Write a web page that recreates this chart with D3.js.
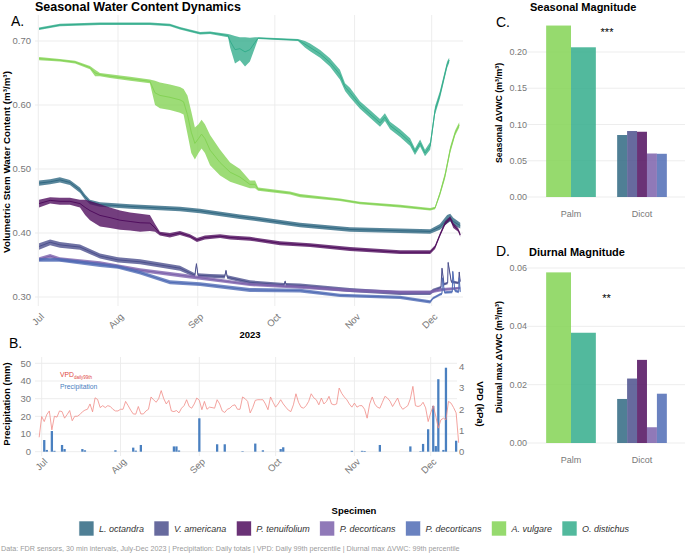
<!DOCTYPE html>
<html>
<head>
<meta charset="utf-8">
<script src="https://cdn.jsdelivr.net/npm/d3@7"></script>
<style>
  body { margin: 0; background: #fff; }
  svg text { font-family: "Liberation Sans", Arial, sans-serif; }
</style>
</head>
<body>
<svg id="chart" width="685" height="555"></svg>
<script>
// Seasonal stem water content, rain / VPD and per-specimen magnitudes.

const specimens      = ['L. octandra', 'V. americana', 'P. tenuifolium', 'P. decorticans', 'P. decorticans', 'A. vulgare', 'O. distichus'];
const specimenColors = ['#306882', '#4c508d', '#500e5e', '#7d62ac', '#506cb5', '#84d355', '#34ad8c'];
const specimenGroup  = ['Dicot', 'Dicot', 'Dicot', 'Dicot', 'Dicot', 'Palm', 'Palm'];
const groups         = ['Palm', 'Dicot'];
const seasonalDelta  = [0.0855, 0.091, 0.090, 0.060, 0.0596, 0.2365, 0.2065];
const diurnalDelta   = [0.0151, 0.0221, 0.0285, 0.0054, 0.0169, 0.0585, 0.0378];

// VWC traces: [days since 1 Jul 2023, daily low, daily high]
const wcLoct = [[0.3,.474,.482],[4.6,.476,.484],[8.4,.479,.487],[12.3,.475,.483],[16.2,.463,.471],[18.2,.452,.460],[20.1,.445,.452],[24,.441,.448],[35.7,.438,.445],[55.1,.434,.441],[62.9,.431,.438],[78.4,.422,.429],[82.3,.420,.427],[101.8,.409,.416],[121.2,.402,.409],[140.7,.400,.407],[152.4,.399,.406],[156.2,.405,.414],[159,.415,.428],[160.2,.418,.430],[161.4,.412,.424],[164.1,.407,.416]];
const wcVame = [[0.3,.374,.384],[4.6,.381,.390],[8.4,.377,.386],[16.2,.374,.382],[24,.360,.368],[31,.354,.362],[39.6,.351,.359],[55.1,.341,.349],[60.9,.331,.337],[61.5,.350,.354],[62.1,.331,.337],[66.8,.330,.336],[72.5,.329,.335],[73,.340,.343],[73.5,.328,.334],[82.3,.320,.326],[95.6,.316,.322],[96,.323,.326],[96.4,.316,.322],[101.8,.315,.321],[121.2,.308,.314],[140.7,.303,.309],[152.4,.303,.309],[153.5,.307,.313],[156.6,.313,.317],[157,.343,.347],[157.8,.318,.322],[159.2,.320,.324],[159.4,.352,.356],[160.6,.322,.326],[163.5,.320,.324],[163.7,.337,.341],[164.1,.322,.326]];
const wcPten = [[0.3,.440,.452],[4.6,.446,.456],[8.4,.444,.455],[12.3,.444,.455],[16.2,.440,.452],[18.2,.428,.452],[20.1,.420,.450],[24,.410,.445],[27.9,.408,.440],[31.8,.405,.435],[35.7,.404,.432],[39.6,.402,.430],[43.4,.403,.428],[45.4,.402,.414],[47.3,.396,.402],[51.2,.393,.400],[55.1,.397,.403],[59,.392,.398],[61.7,.386,.392],[64.8,.390,.396],[70.7,.392,.398],[74.6,.390,.396],[82.3,.388,.394],[94,.381,.387],[105.7,.378,.384],[121.2,.372,.378],[140.7,.367,.373],[152.4,.367,.373],[154.3,.375,.381],[156.2,.394,.400],[158.2,.412,.418],[160.2,.420,.426],[161.4,.408,.416],[163.3,.402,.408],[164.1,.394,.400]];
const wcPdec1 = [[0.3,.356,.362],[4.6,.361,.367],[8.4,.356,.362],[24,.350,.356],[39.6,.339,.345],[55.1,.331,.337],[62.9,.327,.333],[82.3,.317,.322],[101.8,.313,.318],[121.2,.308,.313],[140.7,.305,.310],[152.4,.305,.310],[154.3,.307,.312],[157,.309,.314],[164.1,.312,.316]];
const wcPdec2 = [[0.3,.355,.361],[8.4,.355,.361],[24,.347,.353],[31,.344,.350],[39.6,.335,.341],[51.2,.320,.326],[62.9,.317,.323],[82.3,.308,.314],[101.8,.307,.313],[117.3,.300,.305],[140.7,.297,.302],[152.4,.290,.295],[153.5,.296,.300],[156.2,.302,.306],[157,.303,.307],[157.2,.328,.332],[158,.305,.309],[161,.306,.310],[161.2,.338,.342],[162,.308,.312],[163.5,.306,.310],[163.7,.328,.332],[164.1,.306,.310]];
const wcAvul = [[0.3,.670,.675],[8.4,.668,.672],[14.3,.665,.669],[20.1,.656,.661],[22.1,.645,.655],[24,.645,.650],[27.9,.642,.648],[35.7,.638,.644],[43.4,.634,.640],[45.4,.600,.638],[47.3,.595,.635],[51.2,.592,.632],[55.1,.588,.628],[56.5,.585,.625],[58,.555,.615],[59.5,.525,.590],[60.9,.515,.565],[62.3,.525,.570],[63.5,.532,.577],[64.8,.525,.570],[66.8,.506,.553],[70.7,.490,.530],[74.6,.480,.510],[78.4,.475,.500],[82.3,.470,.482],[84.3,.470,.482],[85.5,.466,.471],[97.9,.460,.465],[101.8,.456,.461],[117.3,.450,.454],[125.1,.445,.449],[140.7,.440,.444],[152.4,.435,.439],[154.3,.437,.441],[156.2,.458,.465],[158.2,.485,.495],[160.2,.525,.535],[162.1,.552,.560],[163.7,.565,.573]];
const wcOdis = [[0.3,.717,.721],[8.4,.723,.727],[24,.725,.729],[43.4,.725,.729],[51.2,.723,.727],[55.1,.718,.722],[62.9,.710,.714],[66.8,.711,.715],[73.8,.706,.711],[74.6,.690,.710],[76.5,.665,.708],[78.4,.670,.706],[80.4,.660,.706],[82.3,.668,.705],[84.3,.690,.706],[85.5,.703,.706],[101,.700,.703],[103.7,.690,.700],[105.7,.684,.696],[109.6,.674,.686],[113.4,.660,.673],[117.3,.640,.655],[119.3,.622,.634],[121.2,.612,.627],[125.1,.594,.606],[129,.580,.592],[132.9,.566,.578],[134.8,.575,.587],[136.8,.562,.574],[140.7,.550,.562],[144.6,.536,.548],[146.5,.522,.532],[148.5,.535,.546],[150.4,.520,.530],[152.4,.530,.542],[154.3,.585,.598],[156.2,.610,.622],[159,.658,.668],[159.8,.666,.674]];
const wcSeries = [wcLoct, wcVame, wcPten, wcPdec1, wcPdec2, wcAvul, wcOdis];

// daily precipitation [day, mm]
const precip = [[1,6.6],[2,1.0],[4,11.7],[5,0.5],[8,3.8],[9,1.5],[16,1.5],[17,0.8],[29,0.8],[36,2.3],[37,0.6],[39,3.8],[52,3.0],[53,3.0],[54,0.7],[62,18.9],[69,4.2],[72,4.2],[79,0.3],[84,4.6],[87,0.8],[94,1.5],[95,2.5],[122,0.5],[126,0.5],[127,0.4],[133,3.8],[145,3.0],[149,0.3],[150,4.4],[152,12.7],[154,25.9],[155,3.2],[156,41.0],[158,1.0],[159,47.5],[163,6.2]];

// daily 99th percentile VPD (kPa), from day -1 onward
const vpdStart = -1;
const vpd = [0.68,1.66,1.42,1.75,1.92,1.03,1.67,1.63,1.92,1.89,1.58,1.75,1.94,1.46,1.67,1.67,1.75,1.88,1.96,2.00,2.25,1.88,2.54,2.46,2.08,2.17,2.08,2.17,2.13,2.00,1.92,1.92,2.00,2.00,2.37,2.17,1.96,1.78,1.77,2.13,1.78,1.78,1.92,2.00,2.58,2.45,2.33,2.50,2.88,2.50,2.25,2.42,1.92,1.89,1.94,1.83,2.05,2.17,2.45,2.13,2.05,2.25,2.53,2.42,1.98,2.37,2.00,2.10,2.08,2.05,2.45,2.25,1.92,1.85,2.00,2.05,2.17,2.21,2.00,2.00,2.58,2.50,2.37,1.83,2.08,2.42,2.45,2.45,2.45,2.25,1.98,2.58,2.33,2.10,2.25,2.45,2.25,2.10,1.96,1.89,2.21,2.73,2.33,2.10,2.05,2.17,2.37,2.73,2.54,2.45,2.21,2.53,2.25,2.37,2.61,2.25,2.21,2.25,3.00,2.75,2.58,2.45,2.25,2.10,2.29,2.10,2.17,2.17,2.00,1.58,2.25,2.58,2.25,2.10,2.05,2.33,2.61,2.53,2.38,2.13,2.33,2.53,2.17,2.00,2.08,2.17,2.50,3.08,2.17,2.13,2.17,2.33,2.07,1.42,1.83,2.17,1.67,1.11,1.50,1.58,1.50,2.37,2.29,2.08,1.83,0.42];

const MM_PER_KPA = 12;
const captionText = 'Data: FDR sensors, 30 min intervals, July-Dec 2023 | Precipitation: Daily totals | VPD: Daily 99th percentile | Diurnal max \u0394VWC: 99th percentile';

const svg = d3.select('#chart');
const GRID = '#ebebeb';
const TICK = '#787878';
const jul1 = new Date(2023, 6, 1);
const dec1 = new Date(2023, 11, 1);
const toDate = d => new Date(jul1.getTime() + d * 864e5);
const months = d3.timeMonth.range(jul1, new Date(2023, 11, 2));
const fmtMonth = d3.timeFormat('%b');

function label(g, x, y, txt, opts = {}) {
  return g.append('text').attr('x', x).attr('y', y).text(txt)
    .attr('font-size', opts.size || 9.5)
    .attr('font-weight', opts.weight || 'normal')
    .attr('fill', opts.fill || '#000')
    .attr('text-anchor', opts.anchor || 'start');
}
function rotLabel(g, x, y, txt, angle, size) {
  g.append('text').attr('transform', `translate(${x},${y}) rotate(${angle})`)
    .attr('text-anchor', 'middle').attr('font-size', size).attr('font-weight', 'bold')
    .attr('fill', '#000').text(txt);
}

// ---------- A. water content ----------
const xA = d3.scaleTime().domain([jul1, dec1]).range([38.3, 431.7]);
const yA = d3.scaleLinear().domain([0.3, 0.7]).range([297, 41]);
const gA = svg.append('g');

gA.selectAll('line.hg').data(yA.ticks(4)).enter().append('line')
  .attr('x1', 35).attr('x2', 463).attr('y1', d => yA(d)).attr('y2', d => yA(d))
  .attr('stroke', GRID).attr('stroke-width', 0.9);
gA.selectAll('line.vg').data(months).enter().append('line')
  .attr('x1', d => xA(d)).attr('x2', d => xA(d)).attr('y1', 15).attr('y2', 306)
  .attr('stroke', GRID).attr('stroke-width', 0.9);

gA.selectAll('text.yt').data(yA.ticks(4)).enter().append('text')
  .attr('x', 31).attr('y', d => yA(d)).attr('dy', '0.35em').attr('text-anchor', 'end')
  .attr('font-size', 9.5).attr('fill', TICK).text(d3.format('.2f'));
gA.selectAll('text.xt').data(months).enter().append('text')
  .attr('transform', d => `translate(${xA(d) + 4},${315}) rotate(-45)`)
  .attr('text-anchor', 'end').attr('dy', '0.35em')
  .attr('font-size', 9.5).attr('fill', TICK).text(fmtMonth);

const areaA = d3.area().x(d => xA(toDate(d[0]))).y0(d => yA(d[1])).y1(d => yA(d[2]));
const lineA = d3.line().x(d => xA(toDate(d[0]))).y(d => yA((d[1] + d[2]) / 2));
wcSeries.forEach((s, i) => {
  gA.append('path').attr('d', areaA(s)).attr('fill', specimenColors[i]).attr('fill-opacity', 0.8);
  gA.append('path').attr('d', lineA(s)).attr('fill', 'none')
    .attr('stroke', specimenColors[i]).attr('stroke-width', 1.0);
});

label(svg, 35, 11, 'Seasonal Water Content Dynamics', { size: 12.5, weight: 'bold' });
label(svg, 11, 26, 'A.', { size: 14 });
rotLabel(svg, 10, 162, 'Volumetric Stem Water Content (m\u00b3/m\u00b3)', -90, 9.8);
label(svg, 250, 338, '2023', { size: 9.5, weight: 'bold', anchor: 'middle' });

// ---------- B. precipitation + VPD ----------
const xB = d3.scaleTime().domain([jul1, dec1]).range([41.7, 430.7]);
const yB = d3.scaleLinear().domain([0, 50]).range([451.7, 363.3]);
const yV = d3.scaleLinear().domain([0, 50 / MM_PER_KPA]).range([451.7, 363.3]);
const gB = svg.append('g');

gB.selectAll('line.hg').data(yB.ticks(5)).enter().append('line')
  .attr('x1', 35).attr('x2', 457).attr('y1', d => yB(d)).attr('y2', d => yB(d))
  .attr('stroke', GRID).attr('stroke-width', 0.9);
gB.selectAll('line.vg').data(months).enter().append('line')
  .attr('x1', d => xB(d)).attr('x2', d => xB(d)).attr('y1', 357).attr('y2', 456)
  .attr('stroke', GRID).attr('stroke-width', 0.9);

gB.selectAll('text.yt').data(yB.ticks(5)).enter().append('text')
  .attr('x', 31).attr('y', d => yB(d)).attr('dy', '0.35em').attr('text-anchor', 'end')
  .attr('font-size', 9.5).attr('fill', TICK).text(d => d);
gB.selectAll('text.vt').data(d3.range(0, 5)).enter().append('text')
  .attr('x', 459).attr('y', d => yV(d)).attr('dy', '0.35em')
  .attr('font-size', 9.5).attr('fill', TICK).text(d => d);
gB.selectAll('text.xt').data(months).enter().append('text')
  .attr('transform', d => `translate(${xB(d) + 4},${460}) rotate(-45)`)
  .attr('text-anchor', 'end').attr('dy', '0.35em')
  .attr('font-size', 9.5).attr('fill', TICK).text(fmtMonth);

const dayW = xB(toDate(1)) - xB(toDate(0));
gB.selectAll('rect.rain').data(precip).enter().append('rect')
  .attr('x', d => xB(toDate(d[0])) - dayW * 0.45).attr('width', dayW * 0.9)
  .attr('y', d => yB(d[1])).attr('height', d => yB(0) - yB(d[1]))
  .attr('fill', '#4a80c0');

const lineV = d3.line().x((d, i) => xB(toDate(vpdStart + i))).y(d => yV(d));
gB.append('path').attr('d', lineV(vpd)).attr('fill', 'none')
  .attr('stroke', '#f08c86').attr('stroke-width', 0.8);

const vpdLab = label(gB, 60, 377, 'VPD', { size: 6.8, fill: '#e0463f' });
vpdLab.append('tspan').attr('font-size', 4.5).attr('dy', 1.6).text('daily99th');
label(gB, 60, 389, 'Precipitation', { size: 6.8, fill: '#4a80c0' });

label(svg, 9, 348, 'B.', { size: 14 });
rotLabel(svg, 10, 404, 'Precipitation (mm)', -90, 9.5);
rotLabel(svg, 477, 404, 'VPD (kPa)', 90, 9.5);

// ---------- C / D. magnitude bars ----------
const xG = d3.scalePoint().domain(groups).range([535.5, 677.5]).padding(0.5);
const groupW = xG.step() * 0.7;
const idx = d3.range(specimens.length);
const inner = {};
groups.forEach(gr => {
  inner[gr] = d3.scaleBand().domain(idx.filter(i => specimenGroup[i] === gr))
    .range([-groupW / 2, groupW / 2]);
});

function barPanel(values, y, ticks, fmt, xLabY) {
  const g = svg.append('g');
  g.selectAll('line.hg').data(ticks).enter().append('line')
    .attr('x1', 527).attr('x2', 685).attr('y1', d => y(d)).attr('y2', d => y(d))
    .attr('stroke', GRID).attr('stroke-width', 0.9);
  g.selectAll('text.yt').data(ticks).enter().append('text')
    .attr('x', 527).attr('y', d => y(d)).attr('dy', '0.35em').attr('text-anchor', 'end')
    .attr('font-size', 9).attr('fill', TICK).text(fmt);
  g.selectAll('rect.bar').data(idx).enter().append('rect')
    .attr('x', i => xG(specimenGroup[i]) + inner[specimenGroup[i]](i))
    .attr('width', i => inner[specimenGroup[i]].bandwidth())
    .attr('y', i => y(values[i])).attr('height', i => y(0) - y(values[i]))
    .attr('fill', i => specimenColors[i]).attr('fill-opacity', 0.85);
  g.selectAll('text.xt').data(groups).enter().append('text')
    .attr('x', d => xG(d)).attr('y', xLabY).attr('text-anchor', 'middle')
    .attr('font-size', 9).attr('fill', TICK).text(d => d);
  return g;
}

const yC = d3.scaleLinear().domain([0, 0.2]).range([197, 52]);
barPanel(seasonalDelta, yC, d3.range(0, 0.2001, 0.05), d3.format('.2f'), 217);
label(svg, 530, 11, 'Seasonal Magnitude', { size: 11, weight: 'bold' });
label(svg, 496, 27, 'C.', { size: 14 });
label(svg, 607, 36, '***', { size: 11, anchor: 'middle' });
rotLabel(svg, 502, 113, 'Seasonal \u0394VWC (m\u00b3/m\u00b3)', -90, 8.8);

const yD = d3.scaleLinear().domain([0, 0.06]).range([443, 268]);
barPanel(diurnalDelta, yD, [0, 0.02, 0.04, 0.06], d3.format('.2f'), 463);
label(svg, 529, 256, 'Diurnal Magnitude', { size: 11, weight: 'bold' });
label(svg, 496, 256, 'D.', { size: 14 });
label(svg, 606.5, 302, '**', { size: 11, anchor: 'middle' });
rotLabel(svg, 502, 357, 'Diurnal max \u0394VWC (m\u00b3/m\u00b3)', -90, 8.8);

// ---------- legend + caption ----------
const gL = svg.append('g');
label(gL, 354, 514, 'Specimen', { size: 9.5, weight: 'bold', anchor: 'middle' });
const items = gL.selectAll('g.item').data(idx).enter().append('g');
items.append('rect').attr('width', 15).attr('height', 15).attr('y', 521)
  .attr('fill', i => specimenColors[i]).attr('fill-opacity', 0.85)
  .attr('stroke', '#fff').attr('stroke-width', 0.6);
items.append('text').attr('x', 20).attr('y', 531.8).attr('font-size', 9)
  .attr('font-style', 'italic').attr('fill', '#333').text(i => specimens[i]);
let cursor = 0;
const offsets = [];
items.each(function () {
  offsets.push(cursor);
  cursor += 20 + this.querySelector('text').getComputedTextLength() + 10;
});
const rowStart = 354 - (cursor - 10) / 2;
items.attr('transform', (d, k) => `translate(${rowStart + offsets[k]},0)`);

label(svg, 1, 551, captionText, { size: 7.2, fill: '#9a9a9a' });
</script>
</body>
</html>
